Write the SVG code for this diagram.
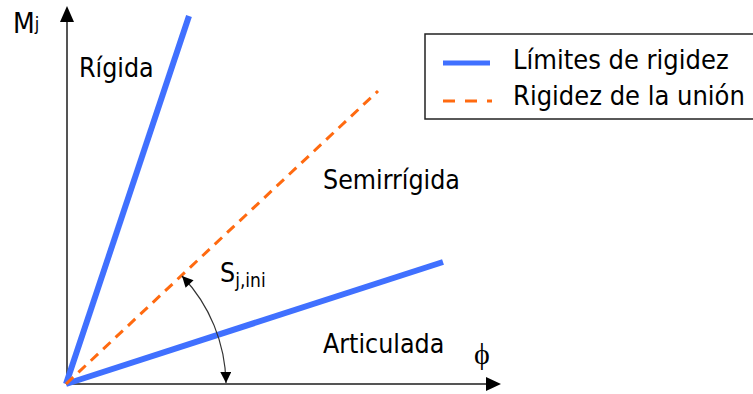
<svg xmlns="http://www.w3.org/2000/svg" width="753" height="394" viewBox="0 0 753 394">
<defs>
<style>
.t{font-family:"DejaVu Sans Condensed","DejaVu Sans",sans-serif;font-stretch:condensed;fill:#000}
.lbl{font-size:26.5px}
.leg{font-size:27px}
.limit{stroke:#4070ff;stroke-width:6;fill:none;stroke-linecap:butt}
.union{stroke:#ff6a10;stroke-width:3;fill:none;stroke-dasharray:10 7}
.axis{stroke:#555;stroke-width:2;fill:none}
</style>
<marker id="ah" viewBox="0 0 10 10" refX="10" refY="5" markerWidth="13" markerHeight="11" markerUnits="userSpaceOnUse" orient="auto-start-reverse">
<path d="M0,0 L10,5 L0,10 z" fill="#000"/>
</marker>
</defs>
<rect width="753" height="394" fill="#fff"/>
<g id="axes">
<line class="axis" x1="67" y1="385" x2="67" y2="20"/>
<path d="M67,6 L60,22 L74,22 z" fill="#000"/>
<line class="axis" x1="66" y1="384" x2="487" y2="384"/>
<path d="M501,384 L486,377 L486,391 z" fill="#000"/>
</g>
<g id="lines">
<line class="limit" x1="66" y1="384" x2="189" y2="16"/>
<line class="limit" x1="66" y1="384" x2="443" y2="262"/>
<line class="union" x1="66" y1="384" x2="378" y2="91"/>
</g>
<g id="connectors">
<path d="M182,276 A159 159 0 0 1 226,383" fill="none" stroke="#333" stroke-width="1.2" marker-start="url(#ah)" marker-end="url(#ah)"/>
</g>
<g id="labels">
<text class="t" x="13" y="33" font-size="28">M<tspan font-size="18" dy="-3">j</tspan></text>
<text class="t lbl" x="79" y="77">Rígida</text>
<text class="t lbl" x="323" y="189">Semirrígida</text>
<text class="t lbl" x="323" y="353">Articulada</text>
<text class="t" x="220" y="282" font-size="26.5">S<tspan font-size="19" dy="5">j,ini</tspan></text>
<text x="482" y="364" font-family="Liberation Serif,serif" font-size="30" text-anchor="middle" fill="#000">ϕ</text>
</g>
<g id="legend">
<rect x="425" y="34" width="340" height="85" fill="#fff" stroke="#222" stroke-width="1.5"/>
<line x1="443" y1="63" x2="490" y2="63" stroke="#4070ff" stroke-width="5"/>
<line x1="443" y1="101" x2="492" y2="101" stroke="#ff6a10" stroke-width="3" stroke-dasharray="12 10"/>
<text class="t leg" x="513" y="69">Límites de rigidez</text>
<text class="t leg" x="513" y="105">Rigidez de la unión</text>
</g>
</svg>
